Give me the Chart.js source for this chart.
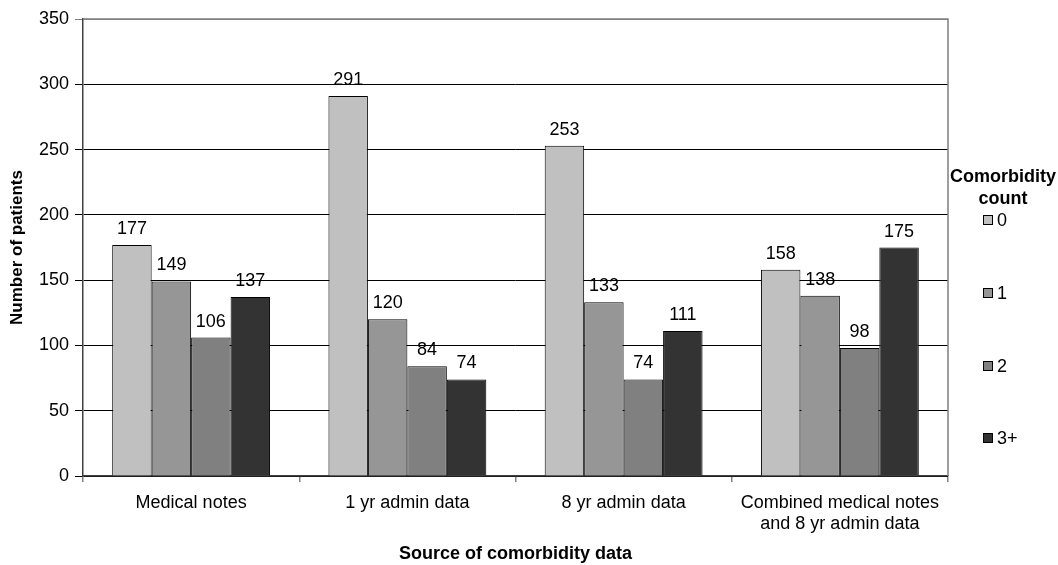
<!DOCTYPE html>
<html>
<head>
<meta charset="utf-8">
<script src="https://cdn.jsdelivr.net/npm/chart.js@4.4.1/dist/chart.umd.min.js"></script>
<style>
  html, body { margin: 0; padding: 0; background: #ffffff; }
  #wrap { width: 1058px; height: 565px; position: relative; }
</style>
</head>
<body>
<div id="wrap"><canvas id="c" width="1058" height="565"></canvas></div>
<script>
const categories = ['Medical notes', '1 yr admin data', '8 yr admin data', ['Combined medical notes', 'and 8 yr admin data']];
const seriesNames = ['0', '1', '2', '3+'];
const count0 = [177, 291, 253, 158];
const count1 = [149, 120, 133, 138];
const count2 = [106, 84, 74, 98];
const count3plus = [137, 74, 111, 175];
const seriesColors = ['#C0C0C0', '#969696', '#808080', '#333333'];
const yTicks = [0, 50, 100, 150, 200, 250, 300, 350];

const FONT = '"Liberation Sans", Arial, Helvetica, sans-serif';

const valueLabels = {
  id: 'valueLabels',
  afterDatasetsDraw(chart) {
    const ctx = chart.ctx;
    ctx.save();
    ctx.font = '18px ' + FONT;
    ctx.fillStyle = '#000';
    ctx.textAlign = 'center';
    ctx.textBaseline = 'alphabetic';
    chart.data.datasets.forEach((ds, i) => {
      const meta = chart.getDatasetMeta(i);
      meta.data.forEach((el, j) => {
        ctx.fillText(String(ds.data[j]), el.x, el.y - 11);
      });
    });
    ctx.restore();
  }
};

const frame = {
  id: 'frame',
  afterDraw(chart) {
    const a = chart.chartArea;
    const ctx = chart.ctx;
    ctx.save();
    ctx.strokeStyle = '#808080';
    ctx.lineWidth = 1.5;
    ctx.beginPath();
    ctx.moveTo(a.left, a.top);
    ctx.lineTo(a.right, a.top);
    ctx.lineTo(a.right, a.bottom);
    ctx.stroke();
    ctx.restore();
  }
};

const sideLegend = {
  id: 'sideLegend',
  afterDraw(chart) {
    const ctx = chart.ctx;
    ctx.save();
    ctx.fillStyle = '#000';
    ctx.font = 'bold 18px ' + FONT;
    ctx.textAlign = 'center';
    ctx.textBaseline = 'middle';
    ctx.fillText('Comorbidity', 1003, 177);
    ctx.fillText('count', 1003, 199);
    const ys = [220, 293, 366, 438];
    ctx.font = '18px ' + FONT;
    ctx.textAlign = 'left';
    chart.data.datasets.forEach((ds, i) => {
      ctx.fillStyle = ds.backgroundColor;
      ctx.fillRect(983.5, ys[i] - 4.5, 9, 9);
      ctx.strokeStyle = '#000';
      ctx.lineWidth = 1;
      ctx.strokeRect(983.5, ys[i] - 4.5, 9, 9);
      ctx.fillStyle = '#000';
      ctx.fillText(ds.label, 997, ys[i] + 1);
    });
    ctx.restore();
  }
};

const datasets = [count0, count1, count2, count3plus].map((d, i) => ({
  label: seriesNames[i],
  data: d,
  backgroundColor: seriesColors[i],
  borderColor: '#000000',
  borderWidth: 1,
  categoryPercentage: 0.73,
  barPercentage: 1.0
}));

new Chart(document.getElementById('c'), {
  type: 'bar',
  data: { labels: categories, datasets },
  options: {
    responsive: false,
    animation: false,
    layout: { padding: { left: 0, right: 110, top: 19, bottom: 0 } },
    plugins: {
      legend: { display: false },
      tooltip: { enabled: false }
    },
    scales: {
      x: {
        offset: true,
        afterFit(axis) { axis.height = 89; },
        grid: { offset: true, drawOnChartArea: false, color: '#808080', tickLength: 6, lineWidth: 1.5 },
        border: { color: '#404040', width: 1.5 },
        ticks: { color: '#000', font: { family: FONT, size: 18, lineHeight: 1.2 }, padding: 10, maxRotation: 0, autoSkip: false },
        title: { display: true, text: 'Source of comorbidity data', color: '#000', font: { family: FONT, size: 18, weight: 'bold' }, padding: { top: 0, bottom: 0 } }
      },
      y: {
        min: 0, max: 350,
        afterFit(axis) { axis.width = 83; },
        afterBuildTicks(axis) { axis.ticks = yTicks.map(v => ({ value: v })); },
        grid: { color: (c) => c.tick && c.tick.value === 350 ? '#808080' : '#000000', tickLength: 8, lineWidth: 1 },
        border: { color: '#404040', width: 1.5 },
        ticks: { color: '#000', font: { family: FONT, size: 18 }, padding: 6 },
        title: { display: true, text: 'Number of patients', color: '#000', font: { family: FONT, size: 17, weight: 'bold' }, padding: { top: 7, bottom: 0 } }
      }
    }
  },
  plugins: [valueLabels, frame, sideLegend]
});
</script>
</body>
</html>
